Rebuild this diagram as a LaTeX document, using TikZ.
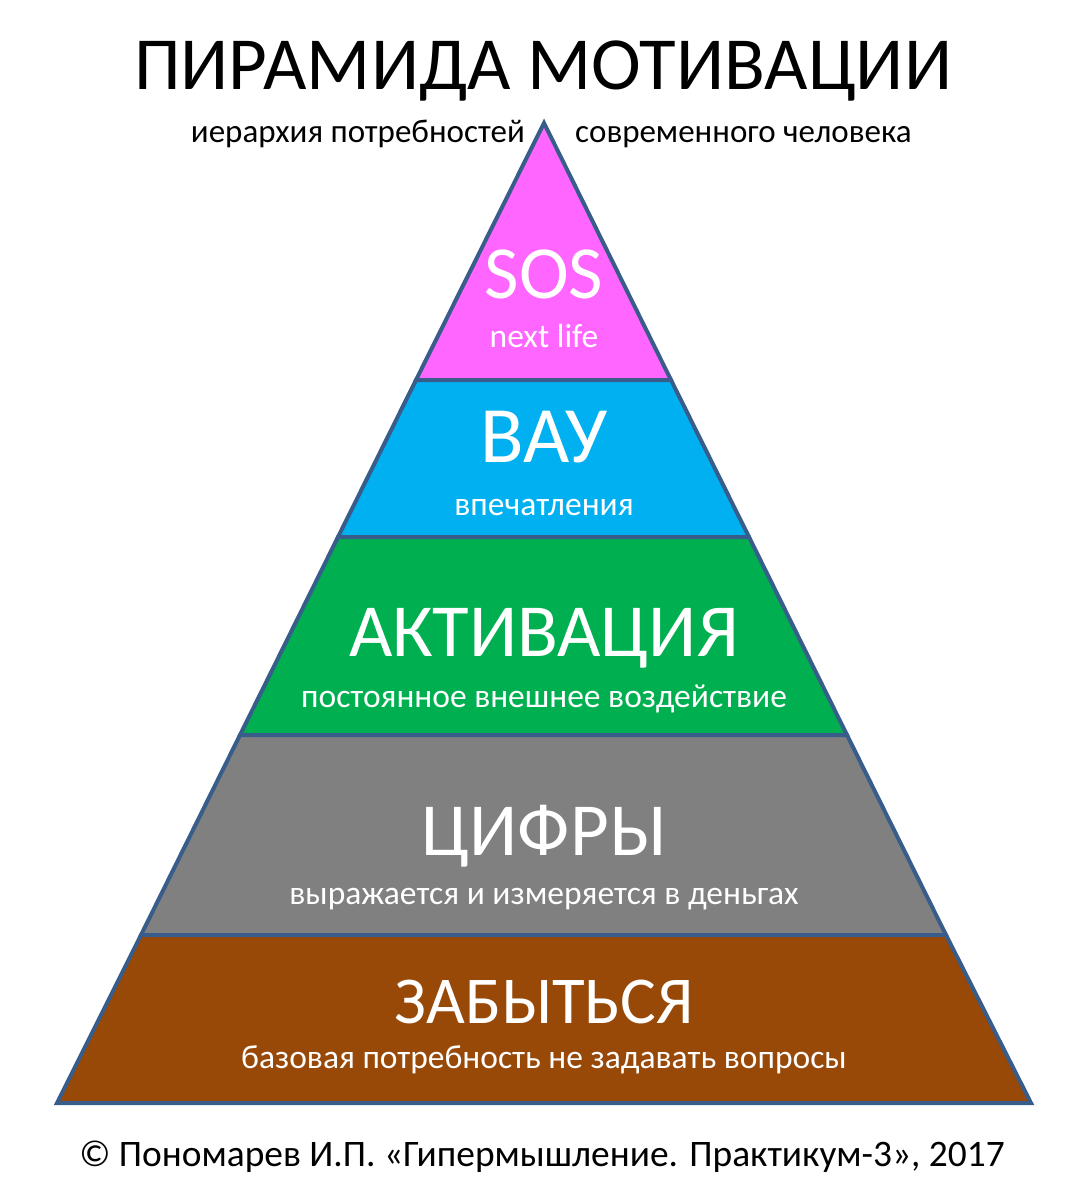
\documentclass[tikz,border=0pt]{standalone}
\usepackage{fontspec}
\setmainfont{Carlito}
\usepackage{tikz}
\usetikzlibrary{calc,positioning}
\definecolor{sospink}{HTML}{FF66FF}
\definecolor{waublue}{HTML}{00B0F0}
\definecolor{actgreen}{HTML}{00B050}
\definecolor{numgray}{HTML}{808080}
\definecolor{baseorange}{HTML}{984807}
\definecolor{edgeblue}{HTML}{385D8A}
\tikzset{
  band/.style={draw=edgeblue, line width=4pt},
  bigtxt/.style={anchor=base, text=white, inner sep=0pt, font=\fontsize{75}{90}\selectfont},
  smalltxt/.style={anchor=base, text=white, inner sep=0pt, font=\fontsize{33.5}{40}\selectfont},
  blacktxt/.style={anchor=base, inner sep=0pt}
}

\begin{document}
\begin{tikzpicture}[x=1pt,y=-1pt]
                    \useasboundingbox (0,0) rectangle (1084,1198);
                    % pyramid bands, top to bottom
                    \draw[band, fill=sospink] (544,123) -- (671,380) -- (416,380) -- cycle;
                    \draw[band, fill=waublue] (416,380) -- (671,380) -- (749,537) -- (338,537) -- cycle;
                    \draw[band, fill=actgreen] (338,537) -- (749,537) -- (847,735) -- (240,735) -- cycle;
                    \draw[band, fill=numgray] (240,735) -- (847,735) -- (946,935) -- (141,935) -- cycle;
                    \draw[band, fill=baseorange] (141,935) -- (946,935) -- (1031,1103) -- (57,1103) -- cycle;
                    % headings
                    \node[blacktxt, font=\fontsize{75}{90}\selectfont] (title) at (543,90) {ПИРАМИДА МОТИВАЦИИ};
                    \node[blacktxt, font=\fontsize{33}{40}\selectfont, anchor=base east] (subleft) at (525,143) {иерархия потребностей};
                    \node[blacktxt, font=\fontsize{33}{40}\selectfont, anchor=base west] (subright) at (575,143) {современного человека};
                    % labels
                    \node[bigtxt] (sos) at (544,298) {SOS};
                    \node[smalltxt] (sosnote) at (544,347) {next life};
                    \node[bigtxt, font=\fontsize{80}{96}\selectfont] (wau) at (544,462) {ВАУ};
                    \node[smalltxt] (waunote) at (544,515) {впечатления};
                    \node[bigtxt] (act) at (544,656) {АКТИВАЦИЯ};
                    \node[smalltxt] (actnote) at (544,707) {постоянное внешнее воздействие};
                    \node[bigtxt] (num) at (544,855) {ЦИФРЫ};
                    \node[smalltxt] (numnote) at (544,904) {выражается и измеряется в деньгах};
                    \node[bigtxt, font=\fontsize{67}{80}\selectfont] (forget) at (544,1023) {ЗАБЫТЬСЯ};
                    \node[smalltxt] (forgetnote) at (544,1068) {базовая потребность не задавать вопросы};
                    % footer
                    \node[blacktxt, font=\fontsize{37.4}{45}\selectfont] (credit) at (542,1166) {© Пономарев И.П. «Гипермышление. Практикум-3», 2017};
                \end{tikzpicture}
\end{document}
